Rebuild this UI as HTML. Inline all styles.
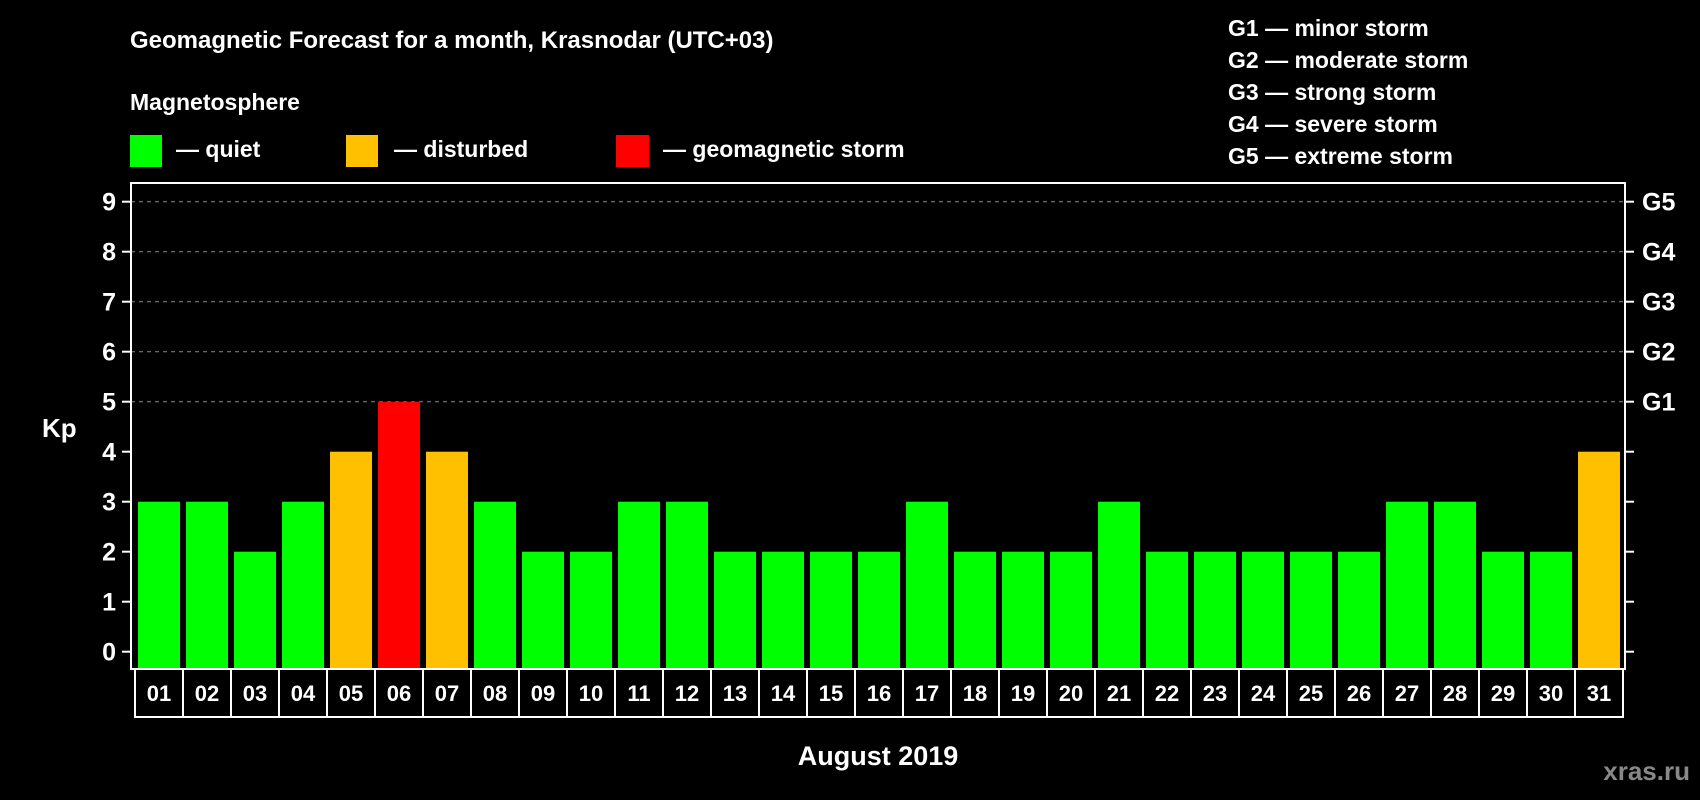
<!DOCTYPE html>
<html><head><meta charset="utf-8"><style>
html,body{margin:0;padding:0;background:#000;}
svg{display:block;font-family:"Liberation Sans",Arial,sans-serif;font-weight:bold;}
</style></head><body>
<svg id="chart" width="1700" height="800" viewBox="0 0 1700 800" xmlns="http://www.w3.org/2000/svg">
<rect width="1700" height="800" fill="#000"/>
<text x="130" y="48" fill="#fff" font-size="24">Geomagnetic Forecast for a month, Krasnodar (UTC+03)</text>
<text x="130" y="110" fill="#fff" font-size="23">Magnetosphere</text>
<g><rect x="130" y="135" width="32" height="32" fill="#00ff00"/><text x="176" y="157" fill="#fff" font-size="23">— quiet</text></g>
<g><rect x="346" y="135" width="32" height="32" fill="#ffc000"/><text x="394" y="157" fill="#fff" font-size="23">— disturbed</text></g>
<g><rect x="616" y="135" width="33" height="32" fill="#ff0000"/><text x="663" y="157" fill="#fff" font-size="23">— geomagnetic storm</text></g>
<g fill="#fff" font-size="23">
<text x="1228" y="36">G1 — minor storm</text>
<text x="1228" y="68">G2 — moderate storm</text>
<text x="1228" y="100">G3 — strong storm</text>
<text x="1228" y="132">G4 — severe storm</text>
<text x="1228" y="164">G5 — extreme storm</text>
</g>
<text x="42" y="437" fill="#fff" font-size="26">Kp</text>
<text x="878" y="765" fill="#fff" font-size="27" text-anchor="middle">August 2019</text>
<text x="1690" y="780" fill="#888" font-size="26" text-anchor="end">xras.ru</text>
<g id="grid"></g><g id="bars"></g><g id="axes"></g><g id="dates"></g>
</svg>
<script>
const days = ["01","02","03","04","05","06","07","08","09","10","11","12","13","14","15","16","17","18","19","20","21","22","23","24","25","26","27","28","29","30","31"];
const kpValues = [3,3,2,3,4,5,4,3,2,2,3,3,2,2,2,2,3,2,2,2,3,2,2,2,2,2,3,3,2,2,4];
const yTicks = [0,1,2,3,4,5,6,7,8,9];
const gLabels = ["G1","G2","G3","G4","G5"];
const gLevels = [5,6,7,8,9];
const NS="http://www.w3.org/2000/svg";
const y0=651.7, unit=50, plotL=131, plotR=1625, plotT=183, plotB=669;
function yScale(v){return y0-v*unit;}
function xScale(i){return 138+i*48;}
function mk(tag,attrs,parent){const e=document.createElementNS(NS,tag);for(const k in attrs)e.setAttribute(k,attrs[k]);parent.appendChild(e);return e;}
function color(v){return v>=5?"#ff0000":(v>=4?"#ffc000":"#00ff00");}
const grid=document.getElementById("grid"),bars=document.getElementById("bars"),axes=document.getElementById("axes"),dates=document.getElementById("dates");
gLevels.forEach((lv,i)=>{
  const l=mk("line",{x1:plotL,x2:plotR,y1:yScale(lv),y2:yScale(lv),stroke:"#888","stroke-width":1,"stroke-dasharray":"4,4"},grid);
  
  
  const t=mk("text",{x:1642,y:yScale(lv)+9,fill:"#fff","font-size":25},axes);
  t.textContent=gLabels[i];
  
  
});
kpValues.forEach((v,i)=>{
  const r=mk("rect",{x:xScale(i),y:yScale(v),width:42,height:668-yScale(v),fill:color(v)},bars);
  
  
});
const frame=mk("rect",{x:plotL,y:plotT,width:plotR-plotL,height:plotB-plotT,fill:"none",stroke:"#fff","stroke-width":2},axes);


yTicks.forEach(v=>{
  const y=yScale(v);
  mk("line",{x1:122,x2:plotL,y1:y,y2:y,stroke:"#fff","stroke-width":2},axes);
  mk("line",{x1:plotR,x2:1634,y1:y,y2:y,stroke:"#fff","stroke-width":2},axes);
  const t=mk("text",{x:116,y:y+9,fill:"#fff","font-size":25,"text-anchor":"end"},axes);
  t.textContent=v;
  
  
});
const box=mk("rect",{x:135,y:669,width:1488,height:48,fill:"none",stroke:"#fff","stroke-width":2},dates);


days.forEach((d,i)=>{
  if(i>0){mk("line",{x1:135+i*48,x2:135+i*48,y1:669,y2:717,stroke:"#fff","stroke-width":2},dates);}
  const t=mk("text",{x:159+i*48,y:701,fill:"#fff","font-size":22,"text-anchor":"middle"},dates);
  t.textContent=d;
  
  
});
</script>
</body></html>
